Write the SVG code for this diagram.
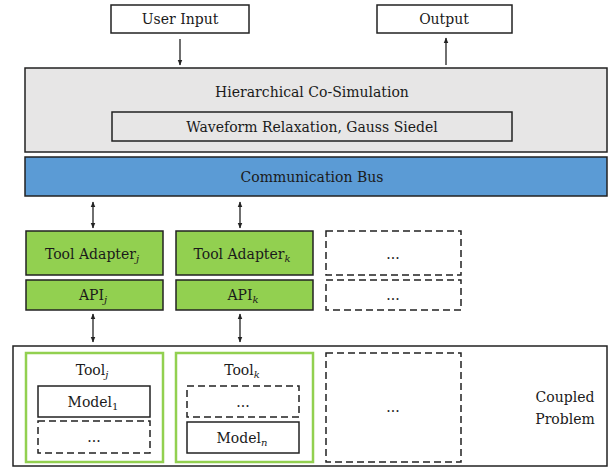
<svg xmlns="http://www.w3.org/2000/svg" width="615" height="470" viewBox="0 0 615 470">
<style>
text{font-family:"DejaVu Serif",serif;font-size:14px;fill:#1a1a1a;text-anchor:middle;dominant-baseline:central}
.sub{font-size:10px}
.it{font-style:italic}
.box{fill:#fff;stroke:#222;stroke-width:1.5}
.dash{fill:#fff;stroke:#222;stroke-width:1.5;stroke-dasharray:7 4}
.green{fill:#92d050;stroke:#222;stroke-width:1.5}
.tool{fill:#fff;stroke:#92d050;stroke-width:2.5}
.conn line{stroke:#222;stroke-width:1.3}
</style>
<defs>
<marker id="ah" viewBox="0 0 10 10" refX="9" refY="5" markerWidth="6" markerHeight="6" orient="auto-start-reverse" markerUnits="userSpaceOnUse"><path d="M0,1 L10,5 L0,9 z" fill="#222"/></marker>
</defs>
<g id="user-input"><rect class="box" x="111" y="5" width="138" height="28"/><text x="180" y="19">User Input</text></g>
<g id="output"><rect class="box" x="377" y="5" width="135" height="28"/><text x="444" y="19">Output</text></g>
<g id="cosim"><rect x="25" y="68" width="582" height="84" fill="#e7e6e6" stroke="#222" stroke-width="1.5"/><text x="312" y="92">Hierarchical Co-Simulation</text></g>
<g id="waveform"><rect x="112" y="112" width="400" height="29" fill="#e7e6e6" stroke="#222" stroke-width="1.5"/><text x="312" y="127">Waveform Relaxation, Gauss Siedel</text></g>
<g id="bus"><rect x="25" y="157" width="582" height="39" fill="#5b9bd5" stroke="#222" stroke-width="1.5"/><text x="312" y="177">Communication Bus</text></g>
<g id="adapter-j"><rect class="green" x="26" y="231" width="137" height="44"/><text x="92" y="254">Tool Adapter<tspan class="sub it" dy="4">j</tspan></text></g>
<g id="adapter-k"><rect class="green" x="176" y="231" width="137" height="44"/><text x="242" y="254">Tool Adapter<tspan class="sub it" dy="4">k</tspan></text></g>
<g id="adapter-etc"><rect class="dash" x="326" y="231" width="135" height="44"/><text x="393" y="254">...</text></g>
<g id="api-j"><rect class="green" x="26" y="280" width="137" height="30"/><text x="93" y="295">API<tspan class="sub it" dy="4">j</tspan></text></g>
<g id="api-k"><rect class="green" x="176" y="280" width="137" height="30"/><text x="243" y="295">API<tspan class="sub it" dy="4">k</tspan></text></g>
<g id="api-etc"><rect class="dash" x="326" y="280" width="135" height="30"/><text x="393" y="295">...</text></g>
<g id="coupled-problem"><rect class="box" x="13" y="346" width="594" height="120"/><text x="565" y="397">Coupled</text><text x="565" y="419">Problem</text></g>
<g id="tool-j"><rect class="tool" x="26" y="353" width="137" height="109"/><text x="92" y="370">Tool<tspan class="sub it" dy="4">j</tspan></text></g>
<g id="model-1"><rect class="box" x="38" y="386" width="112" height="31"/><text x="93" y="402">Model<tspan class="sub" dy="4">1</tspan></text></g>
<g id="model-j-etc"><rect class="dash" x="38" y="421" width="112" height="32"/><text x="94" y="437">...</text></g>
<g id="tool-k"><rect class="tool" x="176" y="353" width="137" height="109"/><text x="242" y="370">Tool<tspan class="sub it" dy="4">k</tspan></text></g>
<g id="model-k-etc"><rect class="dash" x="187" y="386" width="112" height="31"/><text x="243" y="402">...</text></g>
<g id="model-n"><rect class="box" x="187" y="422" width="112" height="31"/><text x="242" y="438">Model<tspan class="sub it" dy="4">n</tspan></text></g>
<g id="tool-etc"><rect class="dash" x="326" y="353" width="135" height="109"/><text x="393" y="407">...</text></g>
<g class="conn" id="connectors">
<line x1="180" y1="39" x2="180" y2="65" marker-end="url(#ah)"/>
<line x1="446" y1="65" x2="446" y2="38" marker-end="url(#ah)"/>
<line x1="93" y1="202" x2="93" y2="228" marker-start="url(#ah)" marker-end="url(#ah)"/>
<line x1="240" y1="202" x2="240" y2="228" marker-start="url(#ah)" marker-end="url(#ah)"/>
<line x1="93" y1="314" x2="93" y2="342" marker-start="url(#ah)" marker-end="url(#ah)"/>
<line x1="240" y1="314" x2="240" y2="342" marker-start="url(#ah)" marker-end="url(#ah)"/>
</g>
</svg>
